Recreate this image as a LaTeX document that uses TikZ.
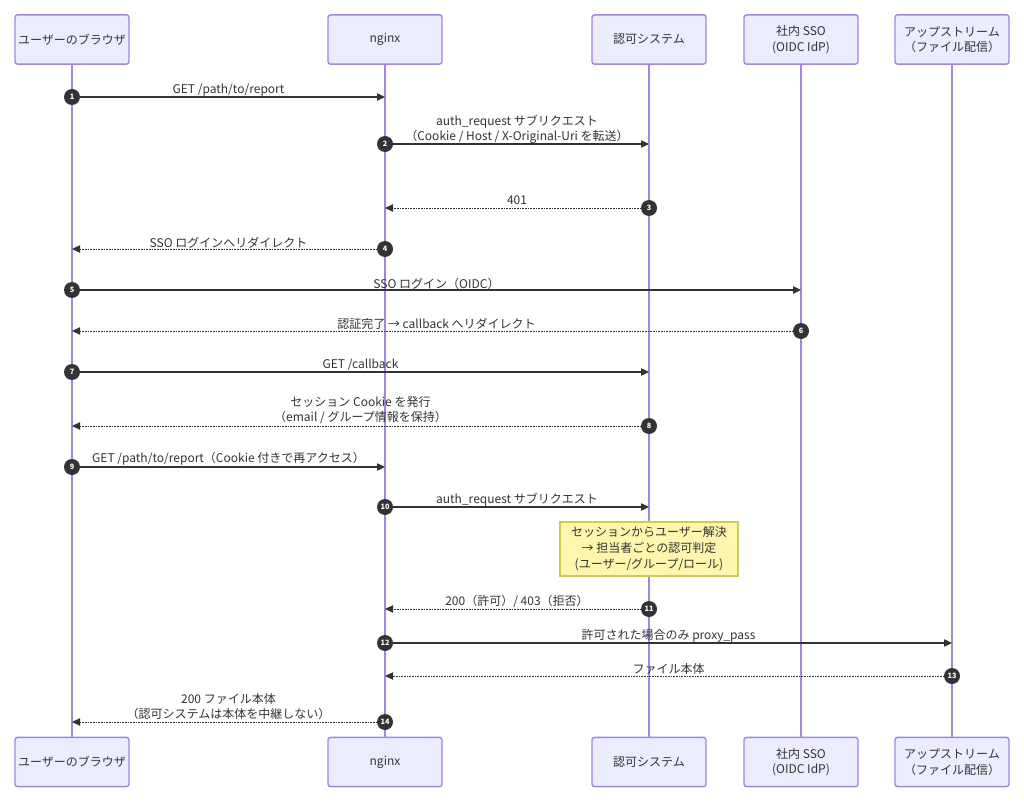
\documentclass[tikz,border=0pt]{standalone}
\usepackage{fontspec}
\setmainfont{Noto Sans CJK JP}
\usetikzlibrary{arrows.meta}
\definecolor{actfill}{HTML}{ECECFF}
\definecolor{actline}{HTML}{A485E6}
\definecolor{sig}{HTML}{333333}
\definecolor{notefill}{HTML}{FFF5AD}
\definecolor{noteline}{HTML}{CCCC55}
\begin{document}
\begin{tikzpicture}[x=0.75pt,y=-0.75pt,
  actor/.style={draw=actline, fill=actfill, line width=1.1pt, rounded corners=2pt,
    minimum width=85.5pt, minimum height=37pt, align=center, inner sep=1pt,
    text=sig, font=\fontsize{9}{11.5}\selectfont},
  life/.style={draw=actline, line width=1.1pt},
  num/.style={circle, fill=sig, text=white, minimum size=12pt, inner sep=0pt,
    font=\fontsize{5.5}{6}\selectfont\bfseries},
  msg/.style={draw=sig, line width=0.9pt, -{Triangle[length=6pt,width=5.5pt]}},
  rep/.style={msg, line width=0.7pt, dash pattern=on 0.6pt off 0.6pt},
  lbl/.style={inner sep=0pt, align=center, text=sig, font=\fontsize{9}{11.25}\selectfont},
  note/.style={draw=noteline, fill=notefill, line width=0.8pt, minimum width=133.5pt,
    minimum height=40.5pt, align=center, inner sep=1pt, text=sig,
    font=\fontsize{9}{12}\selectfont}]
\useasboundingbox (0,0) rectangle (1024,802);
\fill[white] (0,0) rectangle (1024,802);

% actors
\node[actor] (tA) at (72,39.5) {ユーザーのブラウザ};
\node[actor] (tB) at (385,39.5) {nginx};
\node[actor] (tC) at (649,39.5) {認可システム};
\node[actor] (tD) at (801,39.5) {社内 SSO\\(OIDC IdP)};
\node[actor] (tE) at (952,39.5) {アップストリーム\\（ファイル配信）};
\node[actor] (bA) at (72,762) {ユーザーのブラウザ};
\node[actor] (bB) at (385,762) {nginx};
\node[actor] (bC) at (649,762) {認可システム};
\node[actor] (bD) at (801,762) {社内 SSO\\(OIDC IdP)};
\node[actor] (bE) at (952,762) {アップストリーム\\（ファイル配信）};

% lifelines
\draw[life] (tA) -- (bA);
\draw[life] (tB) -- (bB);
\draw[life] (tC) -- (bC);
\draw[life] (tD) -- (bD);
\draw[life] (tE) -- (bE);

% note
\node[note] (nt) at (649,549) {セッションからユーザー解決\\→ 担当者ごとの認可判定\\(ユーザー/グループ/ロール)};

% sequence number circles
\node[num] (n1) at (72,97) {1};
\node[num] (n2) at (385,144) {2};
\node[num] (n3) at (649,208) {3};
\node[num] (n4) at (385,249) {4};
\node[num] (n5) at (72,290) {5};
\node[num] (n6) at (801,331) {6};
\node[num] (n7) at (72,372) {7};
\node[num] (n8) at (649,426) {8};
\node[num] (n9) at (72,467) {9};
\node[num] (n10) at (385,507) {10};
\node[num] (n11) at (649,609) {11};
\node[num] (n12) at (385,643) {12};
\node[num] (n13) at (952,676) {13};
\node[num] (n14) at (385,722) {14};

% receiver ends
\coordinate (r1) at (385,97);
\coordinate (r2) at (649,144);
\coordinate (r3) at (385,208);
\coordinate (r4) at (72,249);
\coordinate (r5) at (801,290);
\coordinate (r6) at (72,331);
\coordinate (r7) at (649,372);
\coordinate (r8) at (72,426);
\coordinate (r9) at (385,467);
\coordinate (r10) at (649,507);
\coordinate (r11) at (385,609);
\coordinate (r12) at (952,643);
\coordinate (r13) at (385,676);
\coordinate (r14) at (72,722);

% messages
\draw[msg] (n1) -- (r1);
\draw[msg] (n2) -- (r2);
\draw[rep] (n3) -- (r3);
\draw[rep] (n4) -- (r4);
\draw[msg] (n5) -- (r5);
\draw[rep] (n6) -- (r6);
\draw[msg] (n7) -- (r7);
\draw[rep] (n8) -- (r8);
\draw[msg] (n9) -- (r9);
\draw[msg] (n10) -- (r10);
\draw[rep] (n11) -- (r11);
\draw[msg] (n12) -- (r12);
\draw[rep] (n13) -- (r13);
\draw[rep] (n14) -- (r14);

% labels
\node[lbl] (l1) at (228.5,90.5) {GET /path/to/report};
\node[lbl] (l2) at (517,129) {auth\_request サブリクエスト\\（Cookie / Host / X-Original-Uri を転送）};
\node[lbl] (l3) at (517,200.5) {401};
\node[lbl] (l4) at (228.5,242.5) {SSO ログインへリダイレクト};
\node[lbl] (l5) at (436.5,283.5) {SSO ログイン（OIDC）};
\node[lbl] (l6) at (436.5,323.5) {認証完了 → callback へリダイレクト};
\node[lbl] (l7) at (360.5,364.5) {GET /callback};
\node[lbl] (l8) at (360.5,410.5) {セッション Cookie を発行\\（email / グループ情報を保持）};
\node[lbl] (l9) at (228.5,458.5) {GET /path/to/report（Cookie 付きで再アクセス）};
\node[lbl] (l10) at (517,499.5) {auth\_request サブリクエスト};
\node[lbl] (l11) at (517,601.5) {200（許可）/ 403（拒否）};
\node[lbl] (l12) at (668.5,635.5) {許可された場合のみ proxy\_pass};
\node[lbl] (l13) at (668.5,668.5) {ファイル本体};
\node[lbl] (l14) at (228.5,707) {200 ファイル本体\\（認可システムは本体を中継しない）};
\end{tikzpicture}
\end{document}
